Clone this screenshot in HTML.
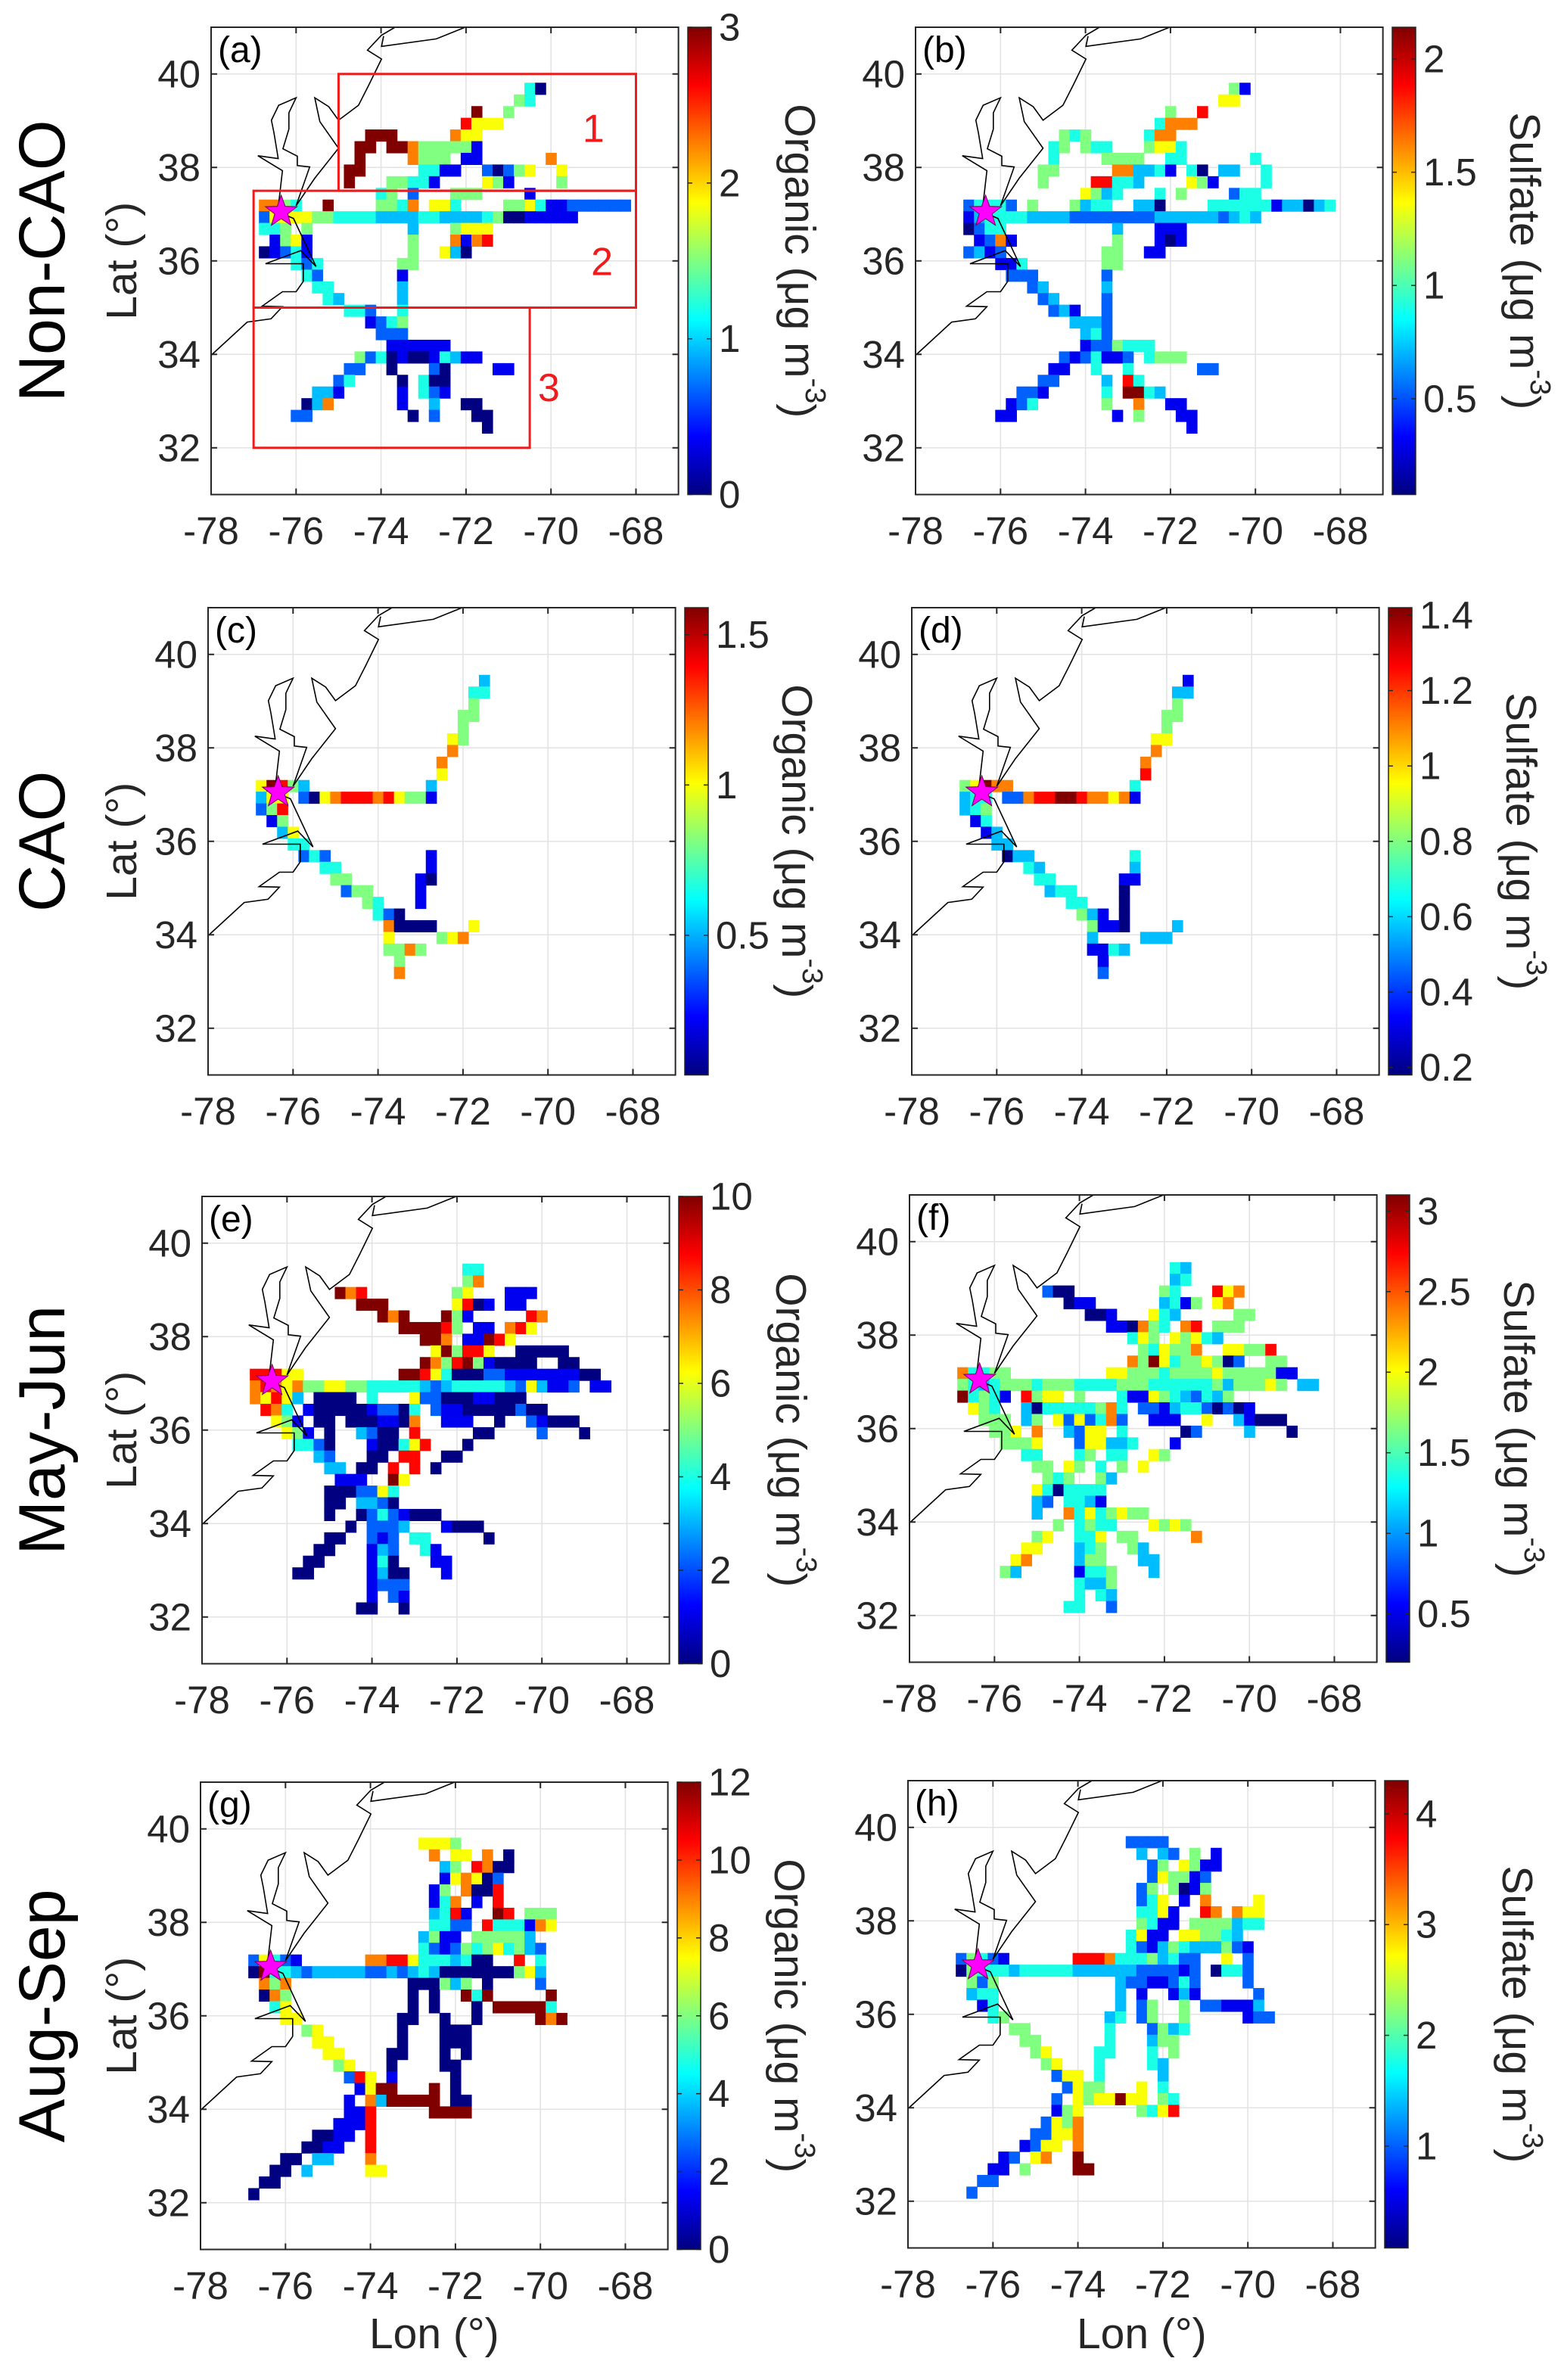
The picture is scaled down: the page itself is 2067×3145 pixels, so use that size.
<!DOCTYPE html>
<html><head><meta charset="utf-8"><title>Organic and sulfate maps</title>
<style>
html,body{margin:0;padding:0;background:#fff;}
svg{display:block;font-family:"Liberation Sans",Arial,sans-serif;}
</style></head>
<body>
<svg id="fig" xmlns="http://www.w3.org/2000/svg" width="2067" height="3145" viewBox="0 0 2067 3145">
<rect x="0" y="0" width="2067" height="3145" fill="#fff"/>
<defs id="defs"></defs>
</svg>
<script>
// ---- data: runs of gridded cells [row, startCol, digit levels (0-9, '.' = no data)] ----
// cell centre lon = -77 + 0.25*col ; lat = 40.1875 - 0.25*row ; value = vmin + levelFrac[d]*(vmax-vmin)
const cellsA = [[2,26,"40"],[3,25,"54"],[4,21,"9..5"],[5,20,"8666"],[6,11,"999.....766"],[7,10,"99.997555551"],[8,10,"9....7555.11......7"],[9,9,"99.....4411..20256..6"],[10,9,"9...55441....651....5"],[11,12,"45.2...555....1"],[12,1,"7754..9....5547.664....556411222222"],[13,1,"266665544443333443333450011111"],[14,1,"445.5.........3...5666"],[15,2,"1561.........5...7178"],[16,1,"01241.........5..630"],[17,4,"424.......55"],[18,5,"42.......1"],[19,6,"44......3"],[20,7,"43.....3"],[21,9,"442..4"],[22,11,"1245"],[23,12,"222"],[24,13,"111111"],[25,10,"524010014311"],[26,9,"22..0...20....11"],[27,8,"24....0.400"],[28,6,"331.....1.421"],[29,5,"037......1..3..00"],[30,4,"22.........0.2...00"],[31,22,"0"]];
const cellsB = [[2,26,"51"],[3,25,"66"],[4,20,"5..8"],[5,19,"4777"],[6,10,"545.....477"],[7,9,"45.544...5664"],[8,9,"4....5555..44......4"],[9,8,"55.....773341.40.33..4"],[10,8,"5....88443....651....4"],[11,12,"6534...4.5....244"],[12,1,"24442.5...5344..330....444444133034"],[13,1,"1344443333222222223333332343"],[14,1,"0244..........3...111"],[15,2,"1271.........5...101"],[16,1,"2312.........55..11"],[17,4,"114.......55"],[18,5,"222......2"],[19,7,"23.....3"],[20,8,"23....2"],[21,9,"231..2"],[22,11,"3332"],[23,12,"342"],[24,12,"1225444"],[25,10,"2124112.4555"],[26,9,"11..4..4......22"],[27,8,"22....3.84"],[28,6,"221.....4.9943"],[29,5,"124......5..7..11"],[30,4,"11.........1.5...11"],[31,22,"1"]];
const cellsC = [[3,22,"3"],[4,21,"44"],[5,21,"5"],[6,20,"55"],[7,20,"5"],[8,19,"65"],[9,19,"7"],[10,18,"7"],[11,18,"6"],[12,1,"69853...........3"],[13,1,"366.2067888786551"],[14,1,"258"],[15,2,"15"],[16,3,"36"],[17,4,"44"],[18,5,"242.........1"],[19,7,"44........1"],[20,8,"55......10"],[21,9,"255....1"],[22,11,"54...1"],[23,12,"420"],[24,13,"70000...6"],[25,13,"6....567"],[26,13,"5575"],[27,14,"5"],[28,14,"7"]];
const cellsD = [[3,22,"1"],[4,21,"33"],[5,21,"5"],[6,20,"55"],[7,20,"5"],[8,19,"66"],[9,19,"7"],[10,18,"7"],[11,18,"8"],[12,1,"56977...........4"],[13,1,"344.2278899877671"],[14,1,"345"],[15,2,"14"],[16,3,"13"],[17,4,"33"],[18,5,"033.........4"],[19,7,"43........3"],[20,8,"44......11"],[21,9,"344....0"],[22,11,"44...0"],[23,12,"531.0"],[24,13,"5110....3"],[25,13,"3....333"],[26,13,"1143"],[27,14,"1"],[28,14,"2"]];
const cellsE = [[3,21,"44"],[4,21,"57"],[5,9,"978........56...111"],[6,11,"999......6801.11"],[7,13,"979...951.....87"],[8,15,"999985.11.786"],[9,17,"997.11986"],[10,18,"695886..00000"],[11,17,"97589510000..00"],[12,1,"88866.........9986400022111111100"],[13,1,"7876755665544444323444443263112.11"],[14,1,"76863.0000.4...62200011000"],[15,2,"874.10000012204.21100000200"],[16,3,"651.00.0001107..111..0..21000"],[17,4,"651.0..3200.8.....00....2...0"],[18,5,"4420...100468...0"],[19,7,"32...00.88..00"],[20,8,"33.00.8.8.0"],[21,9,"111..96"],[22,8,"0002264"],[23,8,"00.3320"],[24,8,"0..02421000"],[25,10,"0.2223...1000"],[26,8,"00..212.44.....0"],[27,7,"00...132..41"],[28,6,"00....140...11"],[29,5,"00.....1300...1"],[30,12,"1222"],[31,12,"1.21"],[32,11,"00..0"]];
const cellsF = [[3,21,"43"],[4,21,"34"],[5,9,"200........54...867"],[6,11,"011......3415.67"],[7,13,"001...643.....55"],[8,15,"110754.78.555"],[9,17,"465.65643"],[10,18,"546557..66558"],[11,17,"75964556502..55"],[12,1,"74455.........665554555565555511"],[13,1,"54345"+"55455"+"54444"+"55544"+"44445"+"35556"+"5.33"],[14,1,"94541.8566.5...41165432435"],[15,2,"654..3044444574.22134420201"],[16,3,"555.35.6262472..111..6..31000"],[17,4,"556.7..3266.4.....02....3...0"],[18,5,"5556...266334...1"],[19,7,"44...45.44..65"],[20,8,"55.65.4.5.6"],[21,9,"545..53"],[22,8,"6404444"],[23,8,"32.4431"],[24,8,"3..74645655"],[25,10,"5.4544...6565"],[26,8,"56..446.55.....7"],[27,7,"66...345..53"],[28,6,"67....355...33"],[29,5,"53.....1445...3"],[30,12,"4335"],[31,12,"4.43"],[32,11,"44..2"]];
const cellsG = [[2,17,"6665"],[3,18,"7.66.7.0"],[4,19,"35.8700"],[5,19,"167602"],[6,18,"15.7008"],[7,18,"147.1.8"],[8,18,"3481..98.555"],[9,18,"4422.8444176"],[10,17,"3511.555553"],[11,17,"421254564532"],[12,1,"26421......778864443400..8.4"],[13,1,"09443"+"23333"+"32232"+"34300"+"00000"+"563"],[14,2,"757..........."+"000535"+".0....2"],[15,2,"075..........."+"0.0..949.....9"],[16,3,"46..........."+"0.0...0.999994"],[17,4,"66.........00..0..0.....979"],[18,6,"56.......0...000"],[19,7,"66......0...000"],[20,8,"66....00...0.0"],[21,9,"56...0....00"],[22,10,"286.1.....0"],[23,11,"1699...9.0"],[24,10,"1.7399999.00"],[25,10,"118.....9999"],[26,9,"1118"],[27,7,"0011.8"],[28,6,"0011..8"],[29,4,"00.33...7"],[30,3,"00.3.....66"],[31,2,"00"],[32,1,"0"]];
const cellsH = [[2,17,"2222"],[3,18,"3.32.5.1"],[4,19,"25.6511"],[5,19,"265512"],[6,18,"25.5015"],[7,18,"246.1.7....6"],[8,18,"4461..87.766"],[9,18,"5411.5555344"],[10,17,"4611.665543"],[11,17,"421354333521"],[12,1,"25421......8887444534"+"22..6.2"],[13,1,"05444"+"34444"+"43333"+"33222"+"212.0"+"442"],[14,2,"525..........."+"32211242....2"],[15,2,"344..........."+"3.1..131.....2"],[16,3,"14..........."+"3.25..5.221113"],[17,4,"45.........34.25..5.....122"],[18,6,"55.......4...2534"],[19,7,"55......4...355"],[20,8,"56....44...4.5"],[21,9,"56...4....43"],[22,10,"266.4.....3"],[23,11,"2655...6.4"],[24,10,"2.6566966.54"],[25,10,"156.....5468"],[26,9,"2657"],[27,8,"22667"],[28,7,"1266.7"],[29,5,"12.67..9"],[30,4,"11.5....99"],[31,3,"22"],[32,2,"2"]];

// colour-bar ranges and tick labels
const rangeA = [0, 3],      ticksA = [0, 1, 2, 3];
const rangeB = [0.077, 2.14], ticksB = [0.5, 1, 1.5, 2];
const rangeC = [0.035, 1.59], ticksC = [0.5, 1, 1.5];
const rangeD = [0.18, 1.42], ticksD = [0.2, 0.4, 0.6, 0.8, 1, 1.2, 1.4];
const rangeE = [0, 10],     ticksE = [0, 2, 4, 6, 8, 10];
const rangeF = [0.2, 3.1],  ticksF = [0.5, 1, 1.5, 2, 2.5, 3];
const rangeG = [0, 12],     ticksG = [0, 2, 4, 6, 8, 10, 12];
const rangeH = [0.08, 4.3], ticksH = [1, 2, 3, 4];
// level digit -> fraction of colour range
const levelFrac = [0, 0.11, 0.22, 0.31, 0.4, 0.5, 0.62, 0.75, 0.87, 1];

const lonTicks = [-78, -76, -74, -72, -70, -68];
const latTicks = [32, 34, 36, 38, 40];
const rowNames = ["Non-CAO", "CAO", "May-Jun", "Aug-Sep"];

// coastline polylines [lon, lat]
const coast1 = [[-78,33.98],[-77.15,34.69],[-76.59,34.76],[-76.32,35.02],[-76.8,35.03],[-76.32,35.34],[-76.0,35.34],[-75.83,35.56],[-75.83,35.94],[-76.72,35.94],[-75.89,36.22],[-75.53,35.88],[-76.06,36.91],[-76.3,37.0]];
const coast2 = [[-76.3,37.0],[-76.41,37.23],[-76.32,37.93],[-76.9,38.25],[-76.42,38.19],[-76.52,38.74],[-76.58,39.01],[-76.41,39.33],[-76.0,39.49],[-76.17,39.17],[-76.17,38.82],[-76.31,38.4],[-75.97,38.24],[-75.97,38.04],[-75.68,38.01],[-76.0,37.18]];
const coast3 = [[-76.0,37.18],[-75.56,37.77],[-75.0,38.41],[-75.44,38.98],[-75.56,39.49],[-75.23,39.3],[-75.0,39.01],[-74.53,39.33],[-74.29,39.76],[-73.99,40.32],[-74.32,40.51],[-73.99,40.83],[-73.67,41.0]];
const coast4 = [[-73.94,40.81],[-73.99,40.59],[-72.7,40.75],[-72.02,41.0]];
const stationLonLat = [-76.35, 37.05];

// region boxes in panel (a): [lonMin, lonMax, latMin, latMax]
const regionBox1 = [-75, -68, 37.5, 40];
const regionBox2 = [-77, -68, 35, 37.5];
const regionBox3 = [-77, -70.5, 32, 35];

// ---- layout ----
const PXLON = 56.15, PXLAT = 61.75;
const panels = [
  {key:'a', x0:279,  y0:36,   cells:cellsA, range:rangeA, ticks:ticksA, species:'Organic', col:0, row:0},
  {key:'b', x0:1210, y0:36,   cells:cellsB, range:rangeB, ticks:ticksB, species:'Sulfate', col:1, row:0},
  {key:'c', x0:275,  y0:803,  cells:cellsC, range:rangeC, ticks:ticksC, species:'Organic', col:0, row:1},
  {key:'d', x0:1205, y0:803,  cells:cellsD, range:rangeD, ticks:ticksD, species:'Sulfate', col:1, row:1},
  {key:'e', x0:267,  y0:1581, cells:cellsE, range:rangeE, ticks:ticksE, species:'Organic', col:0, row:2},
  {key:'f', x0:1202, y0:1579, cells:cellsF, range:rangeF, ticks:ticksF, species:'Sulfate', col:1, row:2},
  {key:'g', x0:265,  y0:2355, cells:cellsG, range:rangeG, ticks:ticksG, species:'Organic', col:0, row:3},
  {key:'h', x0:1200, y0:2353, cells:cellsH, range:rangeH, ticks:ticksH, species:'Sulfate', col:1, row:3}
];

const NS = "http://www.w3.org/2000/svg";
const svg = document.getElementById('fig');
const defs = document.getElementById('defs');
function mk(tag, attrs, parent){
  const e = document.createElementNS(NS, tag);
  for (const k in attrs) e.setAttribute(k, attrs[k]);
  (parent || svg).appendChild(e);
  return e;
}
function clamp(v){ return Math.max(0, Math.min(1, v)); }
function jet(f){
  f = clamp(f);
  const r = clamp(1.5 - Math.abs(4*f - 3)), g = clamp(1.5 - Math.abs(4*f - 2)), b = clamp(1.5 - Math.abs(4*f - 1));
  return 'rgb(' + Math.round(r*255) + ',' + Math.round(g*255) + ',' + Math.round(b*255) + ')';
}
const TXT = '#262626';

panels.forEach(function(p){
  const W = 11*PXLON, H = 10*PXLAT;
  const X = function(lon){ return p.x0 + (lon + 78)*PXLON; };
  const Y = function(lat){ return p.y0 + (41 - lat)*PXLAT; };
  const g = mk('g', {});
  
  

  lonTicks.forEach(function(t){
    const l = mk('line', {x1:X(t), x2:X(t), y1:p.y0, y2:p.y0+H, stroke:'#e3e3e3', 'stroke-width':1.6}, g);
    
    
  });
  latTicks.forEach(function(t){
    const l = mk('line', {x1:p.x0, x2:p.x0+W, y1:Y(t), y2:Y(t), stroke:'#e3e3e3', 'stroke-width':1.6}, g);
    
    
  });

  const cg = mk('g', {}, g);
  
  
  const vmin = p.range[0], vmax = p.range[1];
  p.cells.forEach(function(run){
    const row = run[0], c0 = run[1], s = run[2];
    for (let i = 0; i < s.length; i++){
      const ch = s[i];
      if (ch < '0' || ch > '9') continue;
      const value = vmin + levelFrac[+ch]*(vmax - vmin);
      const lon = -77 + 0.25*(c0 + i), lat = 40.1875 - 0.25*row;
      const x1 = X(lon - 0.125), x2 = X(lon + 0.125), y1 = Y(lat + 0.125), y2 = Y(lat - 0.125);
      const r = mk('rect', {x:x1.toFixed(2), y:y1.toFixed(2), width:(x2-x1+0.6).toFixed(2), height:(y2-y1+0.6).toFixed(2), fill:jet((value - vmin)/(vmax - vmin))}, cg);
      
      
    }
  });

  [coast1, coast2, coast3, coast4].forEach(function(line){
    const pts = line.map(function(q){ return X(q[0]).toFixed(1) + ',' + Y(q[1]).toFixed(1); }).join(' ');
    const pl = mk('polyline', {points:pts, fill:'none', stroke:'#000', 'stroke-width':1.6, 'stroke-linejoin':'miter'}, g);
    
    
  });

  if (p.key === 'a'){
    [[regionBox1,'1',-69.0,38.55],[regionBox2,'2',-68.8,35.7],[regionBox3,'3',-70.05,33.0]].forEach(function(b){
      const bx = b[0];
      const r = mk('rect', {x:X(bx[0]), y:Y(bx[3]), width:X(bx[1])-X(bx[0]), height:Y(bx[2])-Y(bx[3]), fill:'none', stroke:'#ee1c1c', 'stroke-width':3}, g);
      
      
      const t = mk('text', {x:X(b[2]), y:Y(b[3]), fill:'#ee1c1c', 'font-size':52, 'text-anchor':'middle'}, g);
      t.textContent = b[1];
      
      
    });
  }

  const sx = X(stationLonLat[0]), sy = Y(stationLonLat[1]);
  let sp = [];
  for (let k = 0; k < 10; k++){
    const rr = (k % 2 === 0) ? 22 : 9, a = -Math.PI/2 + k*Math.PI/5;
    sp.push((sx + rr*Math.cos(a)).toFixed(1) + ',' + (sy + rr*Math.sin(a)).toFixed(1));
  }
  const star = mk('polygon', {points:sp.join(' '), fill:'#ff00ff', stroke:'#7a0050', 'stroke-width':1}, g);
  
  

  const box = mk('rect', {x:p.x0, y:p.y0, width:W, height:H, fill:'none', stroke:TXT, 'stroke-width':2}, g);
  
  
  lonTicks.forEach(function(t){
    mk('line', {x1:X(t), x2:X(t), y1:p.y0+H, y2:p.y0+H-8, stroke:TXT, 'stroke-width':2}, g);
    mk('line', {x1:X(t), x2:X(t), y1:p.y0, y2:p.y0+8, stroke:TXT, 'stroke-width':2}, g);
    const tl = mk('text', {x:X(t), y:p.y0+H+48, 'font-size':51, fill:TXT, 'text-anchor':'middle', 'dominant-baseline':'central'}, g);
    tl.textContent = String(t);
    
    
  });
  latTicks.forEach(function(t){
    mk('line', {x1:p.x0, x2:p.x0+8, y1:Y(t), y2:Y(t), stroke:TXT, 'stroke-width':2}, g);
    mk('line', {x1:p.x0+W, x2:p.x0+W-8, y1:Y(t), y2:Y(t), stroke:TXT, 'stroke-width':2}, g);
    const tl = mk('text', {x:p.x0-14, y:Y(t), 'font-size':51, fill:TXT, 'text-anchor':'end', 'dominant-baseline':'central'}, g);
    tl.textContent = String(t);
    
    
  });

  const pl = mk('text', {x:p.x0+9, y:p.y0+46, 'font-size':48, fill:'#000'}, g);
  pl.textContent = '(' + p.key + ')';
  
  

  const cbx = p.x0 + 630, cbw = 31;
  const gid = 'jet' + p.key;
  const lg = mk('linearGradient', {id:gid, x1:0, y1:1, x2:0, y2:0}, defs);
  for (let k = 0; k <= 32; k++){
    mk('stop', {offset:(k/32).toFixed(4), 'stop-color':jet(k/32)}, lg);
  }
  const cb = mk('rect', {x:cbx, y:p.y0, width:cbw, height:H, fill:'url(#' + gid + ')', stroke:TXT, 'stroke-width':1.5}, g);
  
  
  const CY = function(v){ return p.y0 + H - (v - vmin)/(vmax - vmin)*H; };
  p.ticks.forEach(function(t){
    mk('line', {x1:cbx, x2:cbx+6, y1:CY(t), y2:CY(t), stroke:TXT, 'stroke-width':1.5}, g);
    mk('line', {x1:cbx+cbw, x2:cbx+cbw-6, y1:CY(t), y2:CY(t), stroke:TXT, 'stroke-width':1.5}, g);
    const tl = mk('text', {x:cbx+cbw+10, y:CY(t), 'font-size':51, fill:TXT, 'dominant-baseline':'central'}, g);
    tl.textContent = String(t);
    
    
  });
  const lx = p.col === 0 ? p.x0 + 778 : p.x0 + 805, ly = p.y0 + H/2;
  const cl = mk('text', {x:lx, y:ly, 'font-size':57, fill:TXT, 'text-anchor':'middle', 'dominant-baseline':'central', transform:'rotate(90 ' + lx + ' ' + ly + ')'}, g);
  
  
  const t1 = mk('tspan', {}, cl); t1.textContent = p.species + ' (\u03BCg m';
  const t2 = mk('tspan', {dy:-20, 'font-size':38}, cl); t2.textContent = '-3';
  const t3 = mk('tspan', {dy:20}, cl); t3.textContent = ')';

  if (p.col === 0){
    const ax = 161, ay = p.y0 + H/2;
    const yl = mk('text', {x:ax, y:ay, 'font-size':57, fill:TXT, 'text-anchor':'middle', 'dominant-baseline':'central', transform:'rotate(-90 ' + ax + ' ' + ay + ')'}, g);
    yl.textContent = 'Lat (\u00B0)';
    
    
    const rx = 56;
    const rt = mk('text', {x:rx, y:ay, 'font-size':86, fill:'#000', 'text-anchor':'middle', 'dominant-baseline':'central', transform:'rotate(-90 ' + rx + ' ' + ay + ')'}, g);
    rt.textContent = rowNames[p.row];
    
    
  }
  if (p.row === 3){
    const xl = mk('text', {x:p.x0 + W/2, y:3084, 'font-size':57, fill:TXT, 'text-anchor':'middle', 'dominant-baseline':'central'}, g);
    xl.textContent = 'Lon (\u00B0)';
    
    
  }
});
</script>
</body></html>
